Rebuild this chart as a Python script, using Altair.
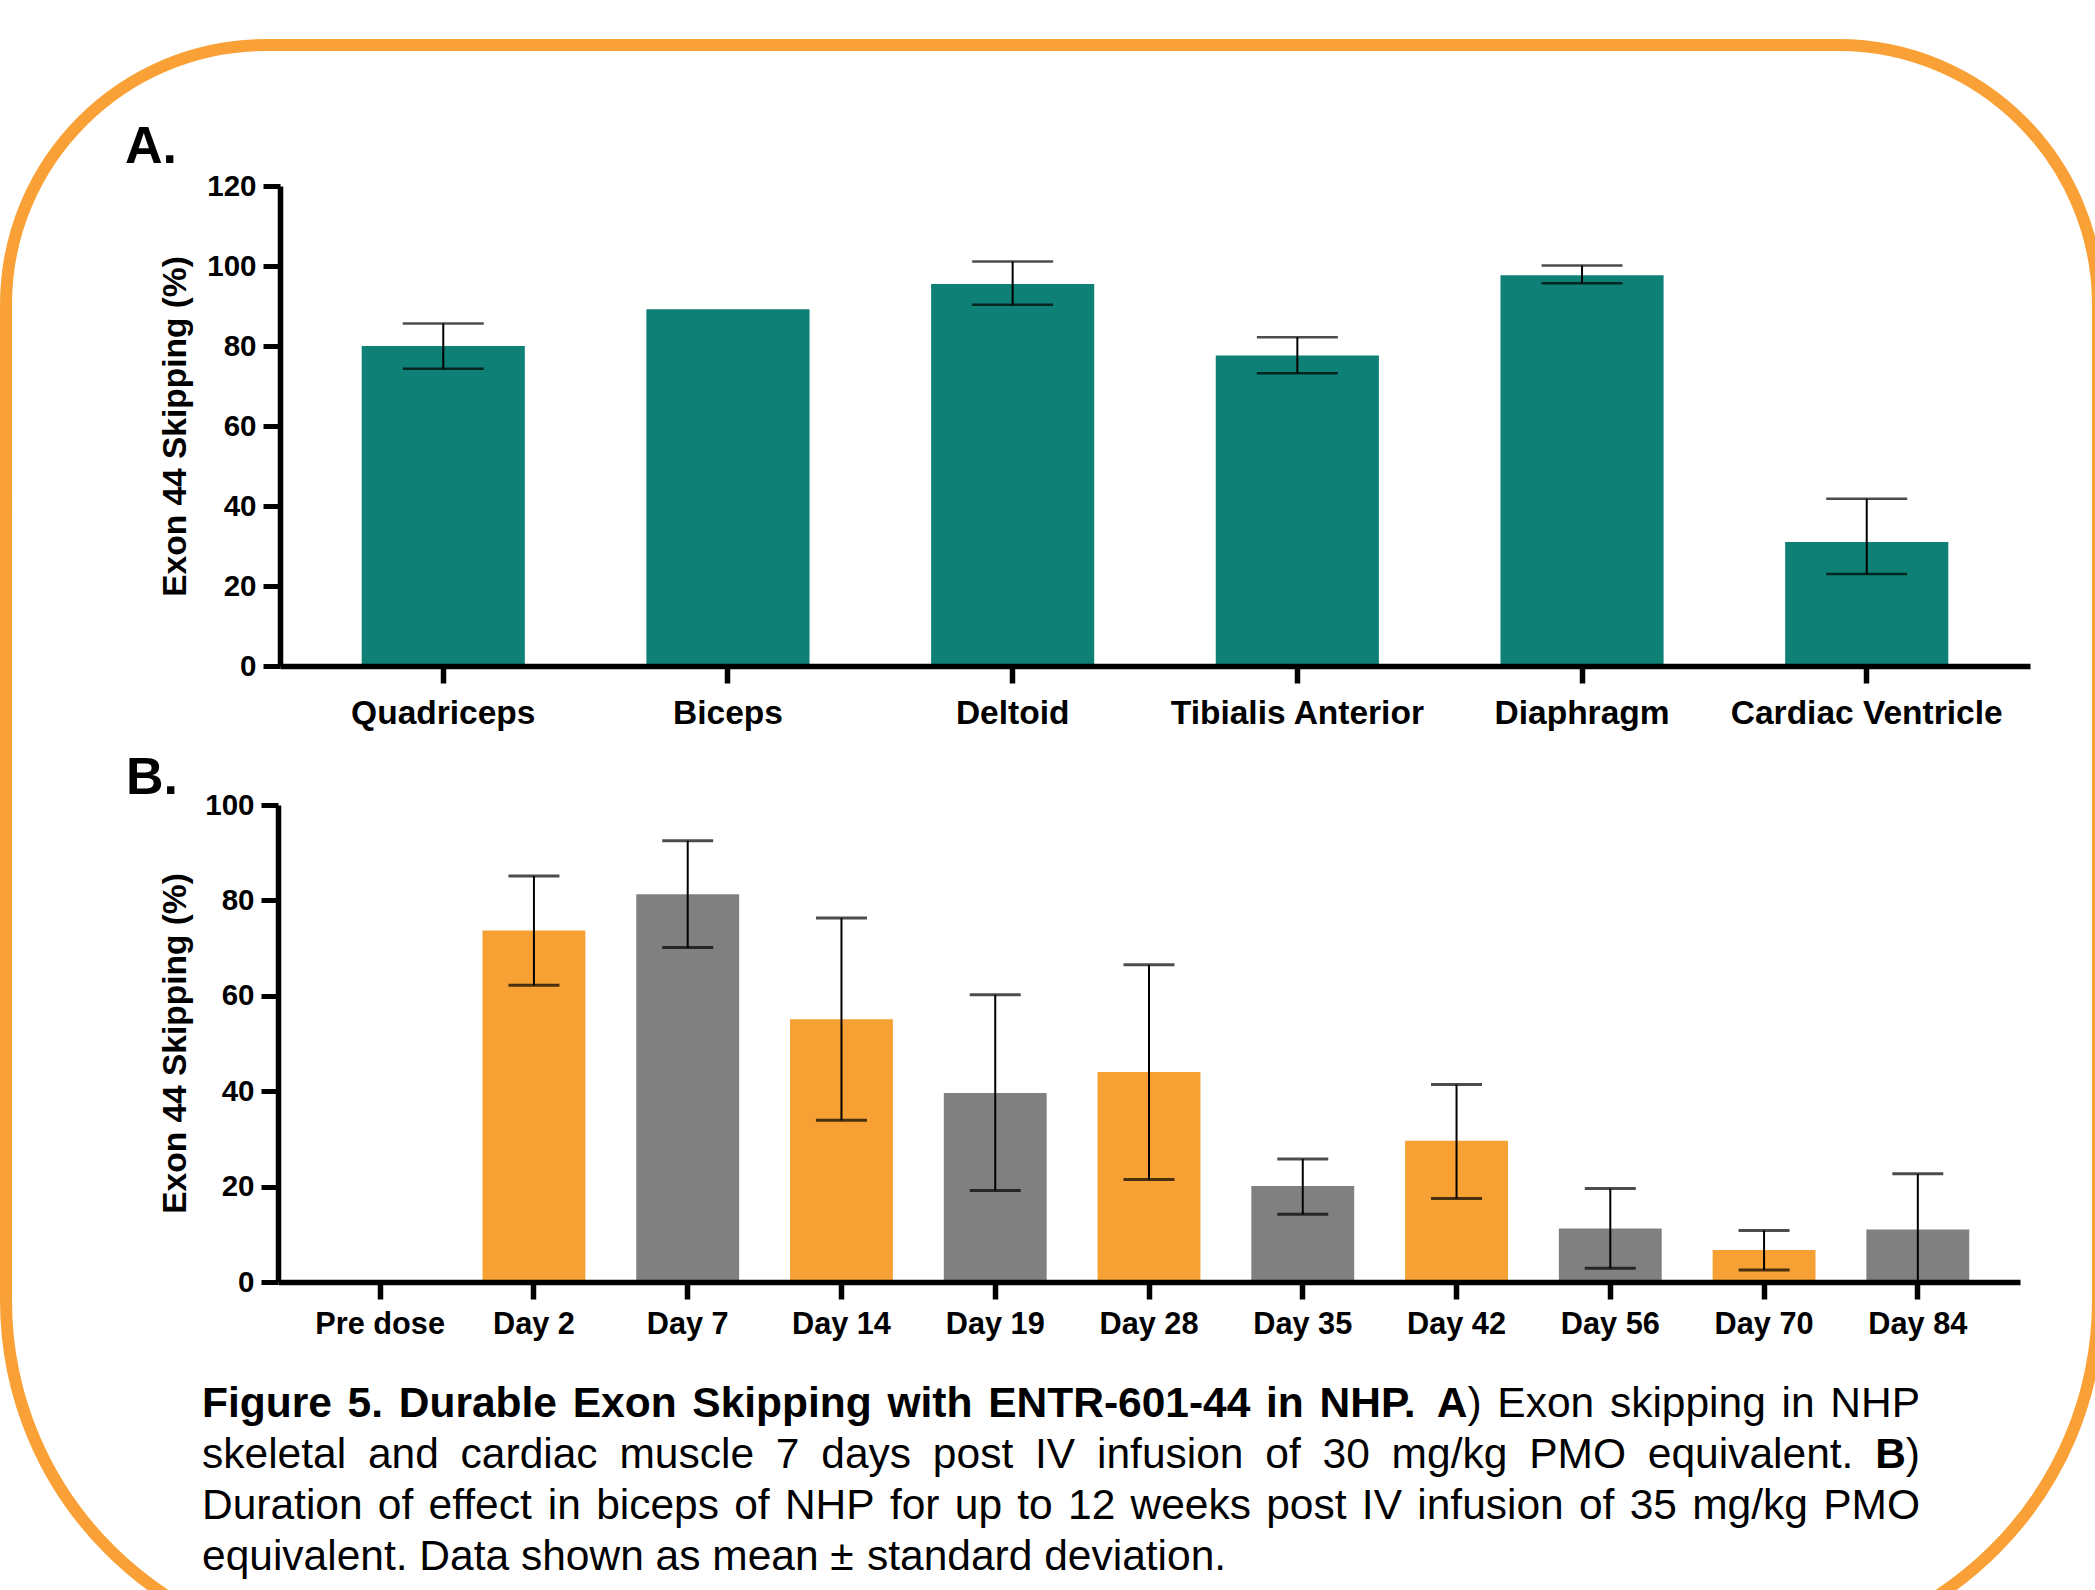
import altair as alt
import pandas as pd

# ---- Panel A: exon 44 skipping by tissue, 7 days after a 30 mg/kg dose ----
muscles = ["Quadriceps", "Biceps", "Deltoid", "Tibialis Anterior", "Diaphragm", "Cardiac Ventricle"]
muscle_mean = [80.0, 89.2, 95.5, 77.6, 97.7, 31.0]
muscle_sd_low = [74.3, None, 90.3, 73.2, 95.7, 23.0]
muscle_sd_high = [85.6, None, 101.1, 82.2, 100.1, 41.8]

# ---- Panel B: biceps time course after a 35 mg/kg dose ----
timepoints = ["Pre dose", "Day 2", "Day 7", "Day 14", "Day 19", "Day 28",
              "Day 35", "Day 42", "Day 56", "Day 70", "Day 84"]
time_mean = [0.0, 73.7, 81.3, 55.1, 39.6, 44.0, 20.1, 29.6, 11.2, 6.7, 11.0]
time_sd_low = [None, 62.2, 70.1, 33.9, 19.2, 21.5, 14.2, 17.5, 2.9, 2.5, 0.0]
time_sd_high = [None, 85.1, 92.5, 76.3, 60.2, 66.5, 25.8, 41.4, 19.6, 10.8, 22.7]
time_tone = ["orange", "orange", "grey", "orange", "grey", "orange",
             "grey", "orange", "grey", "orange", "grey"]

yticks_a = [0, 20, 40, 60, 80, 100, 120]
yticks_b = [0, 20, 40, 60, 80, 100]
y_title = "Exon 44 Skipping (%)"

caption_lines = [
    "**Figure 5. Durable Exon Skipping with ENTR-601-44 in NHP. A**) Exon skipping in NHP",
    "skeletal and cardiac muscle 7 days post IV infusion of 30 mg/kg PMO equivalent. **B**)",
    "Duration of effect in biceps of NHP for up to 12 weeks post IV infusion of 35 mg/kg PMO",
    "equivalent. Data shown as mean \u00b1 standard deviation.",
]

# ---- styling ----
FONT = "Liberation Sans"
TEAL = "#0E8075"
ORANGE = "#F7A033"
GREY = "#808080"
FRAME = "#F9A136"
W, H = 2095, 1590

# ---- caption layout (justified lines, Arial-compatible advance widths) ----
REG = dict(zip("ABCDEFGHIJKLMNOPQRSTUVWXYZ",
               [667, 667, 722, 722, 667, 611, 778, 722, 278, 500, 667, 556, 833,
                722, 778, 667, 778, 722, 667, 611, 722, 667, 944, 667, 667, 611]))
REG.update(zip("abcdefghijklmnopqrstuvwxyz",
               [556, 556, 500, 556, 556, 278, 556, 556, 222, 222, 500, 222, 833,
                556, 556, 556, 556, 333, 500, 278, 556, 500, 722, 500, 500, 500]))
BOLD = dict(zip("ABCDEFGHIJKLMNOPQRSTUVWXYZ",
                [722, 722, 722, 722, 667, 611, 778, 722, 278, 556, 722, 611, 833,
                 722, 778, 667, 778, 722, 667, 611, 722, 667, 944, 667, 667, 611]))
BOLD.update(zip("abcdefghijklmnopqrstuvwxyz",
                [556, 611, 556, 611, 556, 333, 611, 611, 278, 278, 556, 278, 889,
                 611, 611, 611, 611, 389, 556, 333, 611, 556, 778, 556, 556, 500]))
for table in (REG, BOLD):
    table.update({c: 556 for c in "0123456789"})
    table.update({" ": 278, ".": 278, "-": 333, "/": 278, "(": 333, ")": 333, "\u00b1": 584})

CAP_SIZE = 42.5
CAP_LEFT, CAP_RIGHT = 202, 1920
CAP_BASE, CAP_LEADING = 1417, 51


def text_width(s, bold):
    table = BOLD if bold else REG
    return sum(table.get(c, 556) for c in s) * CAP_SIZE / 1000.0


def split_words(line):
    words = [[]]
    for i, part in enumerate(line.split("**")):
        bold = i % 2 == 1
        for j, piece in enumerate(part.split(" ")):
            if j > 0:
                words.append([])
            if piece:
                words[-1].append((piece, bold))
    return [w for w in words if w]


cap_rows = []
for i, line in enumerate(caption_lines):
    words = split_words(line)
    widths = [sum(text_width(t, b) for t, b in w) for w in words]
    if i == len(caption_lines) - 1:
        gap = text_width(" ", False)
    else:
        gap = (CAP_RIGHT - CAP_LEFT - sum(widths)) / (len(words) - 1)
    x = CAP_LEFT
    for w, ww in zip(words, widths):
        sx = x
        for t, b in w:
            cap_rows.append({"token": t, "bold": b, "px": sx, "py": CAP_BASE + i * CAP_LEADING})
            sx += text_width(t, b)
        x += ww + gap
cap_df = pd.DataFrame(cap_rows)


def x_enc(field, domain, rng, p_inner, p_outer, axis_y, label_size, label_pad):
    return alt.X(
        f"{field}:N", sort=domain,
        scale=alt.Scale(domain=domain, range=rng, paddingInner=p_inner, paddingOuter=p_outer),
        axis=alt.Axis(orient="bottom", offset=axis_y - H, title=None, labelAngle=0,
                      labelFont=FONT, labelFontSize=label_size, labelFontWeight="bold",
                      labelColor="black", labelPadding=label_pad, labelLimit=800,
                      domainColor="black", domainWidth=5.5, tickColor="black",
                      tickWidth=5.5, tickSize=17, grid=False, zindex=1),
    )


def y_axis(values, axis_x, title_y):
    return alt.Axis(orient="left", offset=-axis_x, values=values, format="d",
                    title=y_title, titleFont=FONT, titleFontSize=33.5, titleFontWeight="bold",
                    titleColor="black", titleAngle=270, titleAlign="center",
                    titleBaseline="alphabetic", titleX=185 - axis_x, titleY=title_y,
                    labelFont=FONT, labelFontSize=29.5, labelFontWeight="bold",
                    labelColor="black", labelPadding=7, domainColor="black",
                    domainWidth=5.5, tickColor="black", tickWidth=5, tickSize=17,
                    grid=False, zindex=1)


# ---- panel A ----
df_a = pd.DataFrame({"muscle": muscles, "mean": muscle_mean,
                     "low": muscle_sd_low, "high": muscle_sd_high})
err_a = df_a.dropna()
xa = x_enc("muscle", muscles, [280, 2030], 0.427, 0.287, 666, 33.5, 14)
ya_scale = alt.Scale(domain=[0, 120], range=[666, 186], nice=False, zero=True)
ya_axis = y_axis(yticks_a, 280, 426)

bars_a = alt.Chart(df_a).mark_bar(color=TEAL).encode(
    x=xa, y=alt.Y("mean:Q", scale=ya_scale, axis=ya_axis))
rules_a = alt.Chart(err_a).mark_rule(color="black", strokeWidth=2).encode(
    x=xa, y=alt.Y("low:Q", scale=ya_scale, axis=ya_axis), y2="high:Q")
lo_a = alt.Chart(err_a).mark_tick(orient="horizontal", color="black", size=81, thickness=2.5).encode(
    x=xa, y=alt.Y("low:Q", scale=ya_scale, axis=ya_axis))
hi_a = alt.Chart(err_a).mark_tick(orient="horizontal", color="black", size=81, thickness=2.5).encode(
    x=xa, y=alt.Y("high:Q", scale=ya_scale, axis=ya_axis))
panel_a = alt.layer(bars_a, rules_a, lo_a, hi_a)

# ---- panel B ----
df_b = pd.DataFrame({"day": timepoints, "mean": time_mean, "low": time_sd_low,
                     "high": time_sd_high, "tone": time_tone})
err_b = df_b.dropna()
xb = x_enc("day", timepoints, [278, 2020], 0.331, 0.33, 1282, 30.7, 10)
yb_scale = alt.Scale(domain=[0, 100], range=[1282, 805], nice=False, zero=True)
yb_axis = y_axis(yticks_b, 278, 1043)

bars_b = alt.Chart(df_b).mark_bar().encode(
    x=xb, y=alt.Y("mean:Q", scale=yb_scale, axis=yb_axis),
    color=alt.Color("tone:N", scale=alt.Scale(domain=["orange", "grey"], range=[ORANGE, GREY]),
                    legend=None))
rules_b = alt.Chart(err_b).mark_rule(color="black", strokeWidth=2).encode(
    x=xb, y=alt.Y("low:Q", scale=yb_scale, axis=yb_axis), y2="high:Q")
lo_b = alt.Chart(err_b).mark_tick(orient="horizontal", color="black", size=51, thickness=3).encode(
    x=xb, y=alt.Y("low:Q", scale=yb_scale, axis=yb_axis))
hi_b = alt.Chart(err_b).mark_tick(orient="horizontal", color="black", size=51, thickness=3).encode(
    x=xb, y=alt.Y("high:Q", scale=yb_scale, axis=yb_axis))
panel_b = alt.layer(bars_b, rules_b, lo_b, hi_b)

# ---- rounded orange frame ----
frame = alt.Chart(pd.DataFrame({"frame": [0]})).mark_rect(
    fill="transparent", stroke=FRAME, strokeWidth=12,
    cornerRadiusTopLeft=260, cornerRadiusTopRight=260,
    cornerRadiusBottomLeft=353, cornerRadiusBottomRight=353,
).encode(x=alt.value(6), x2=alt.value(2098), y=alt.value(45), y2=alt.value(1653))

# ---- panel tags ----
tag_style = dict(align="left", baseline="alphabetic", font=FONT, fontSize=52,
                 fontWeight="bold", color="black")
tag_a = alt.Chart(pd.DataFrame({"tag": ["A."]})).mark_text(**tag_style).encode(
    text="tag:N", x=alt.value(125), y=alt.value(163))
tag_b = alt.Chart(pd.DataFrame({"tag": ["B."]})).mark_text(**tag_style).encode(
    text="tag:N", x=alt.value(126), y=alt.value(794))

# ---- caption ----
cap_base = alt.Chart(cap_df).encode(
    x=alt.X("px:Q", scale=None, axis=None),
    y=alt.Y("py:Q", scale=None, axis=None),
    text="token:N",
)
cap_bold = cap_base.transform_filter("datum.bold").mark_text(
    align="left", baseline="alphabetic", font=FONT, fontSize=CAP_SIZE,
    fontWeight="bold", color="black")
cap_reg = cap_base.transform_filter("!datum.bold").mark_text(
    align="left", baseline="alphabetic", font=FONT, fontSize=CAP_SIZE,
    fontWeight="normal", color="black")

chart = (
    alt.layer(frame, panel_a, panel_b, tag_a, tag_b, cap_bold, cap_reg)
    .resolve_scale(x="independent", y="independent", color="independent")
    .properties(width=W, height=H, padding=0, background="white",
                autosize=alt.AutoSizeParams(type="none"))
    .configure_view(strokeWidth=0)
)

chart.save("out.html", embed_options={"renderer": "svg", "actions": False})
